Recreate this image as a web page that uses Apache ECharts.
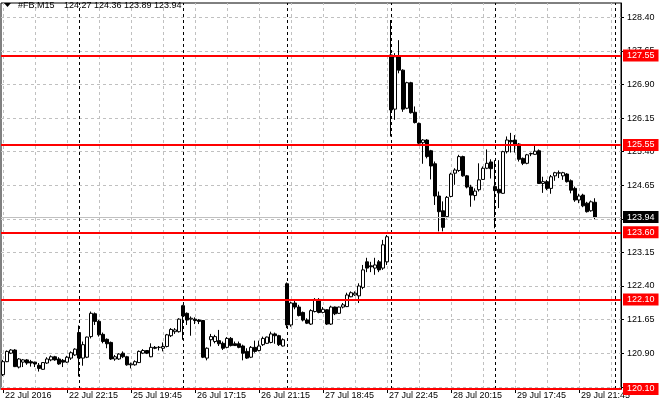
<!DOCTYPE html>
<html><head><meta charset="utf-8">
<script src="https://cdn.jsdelivr.net/npm/echarts@6/dist/echarts.min.js"></script>
<style>html,body{margin:0;padding:0;background:#fff}#c{width:660px;height:410px}</style>
</head><body><div id="c"></div>
<script>
const symbolName = '#FB,M15';
const year = 2016;
// trading sessions: [day, first bar time, number of 15-minute bars]
const sessions = [['22 Jul','18:15',19],['25 Jul','16:30',26],['26 Jul','16:30',26],['27 Jul','16:30',26],['28 Jul','16:30',26],['29 Jul','16:30',26]];
const chartShiftBars = 6;

const opens = [120.42,120.71,120.90,120.97,120.59,120.70,120.75,120.71,120.70,120.63,120.54,120.68,120.75,120.82,120.77,120.74,120.70,120.79,120.86,
121.36,120.79,120.81,121.27,121.78,121.61,121.32,121.21,121.14,120.77,120.77,120.90,120.82,120.64,120.64,120.69,120.90,120.96,120.82,121.03,121.03,121.01,121.05,121.29,121.38,121.38,
121.96,121.79,121.66,121.66,121.64,121.63,120.79,121.20,121.16,121.18,121.12,121.03,121.23,121.11,121.11,121.06,120.94,120.81,121.03,120.96,121.09,121.12,121.14,121.33,121.29,121.06,
122.45,121.53,122.02,121.93,121.81,121.64,121.55,121.83,122.10,121.81,121.87,121.55,121.93,121.79,121.93,121.94,122.16,122.20,122.18,122.37,122.94,122.85,122.80,122.94,122.80,122.94,
127.56,126.35,127.52,127.22,126.37,126.94,126.28,126.03,125.60,125.66,125.42,125.13,124.41,124.08,123.95,124.40,124.92,124.98,125.29,124.86,124.61,124.42,124.55,124.78,125.03,125.17,
124.62,124.56,124.47,125.40,125.65,125.66,125.57,125.25,125.14,125.35,125.34,125.42,124.69,124.73,124.58,124.86,124.92,124.86,124.90,124.75,124.58,124.32,124.43,124.25,124.08,124.27];
const highs = [120.75,120.96,120.99,120.99,120.79,120.77,120.77,120.75,120.71,120.68,120.70,120.81,120.85,120.84,120.81,120.77,120.84,120.94,121.01,
121.52,121.16,121.27,121.83,121.81,121.64,121.36,121.23,121.16,120.86,120.90,120.94,120.84,120.69,120.74,120.96,120.99,120.97,121.12,121.06,121.06,121.14,121.33,121.46,121.46,121.68,
121.98,121.81,121.72,121.70,121.66,121.64,121.03,121.33,121.31,121.42,121.16,121.26,121.26,121.16,121.16,121.09,121.01,121.06,121.18,121.18,121.27,121.27,121.38,121.36,121.31,121.23,
122.48,122.05,122.09,121.98,121.83,121.68,121.88,122.13,122.13,121.93,121.88,121.96,121.94,121.94,122.02,122.25,122.28,122.28,122.46,122.87,123.03,122.94,123.03,122.98,123.43,123.54,
128.34,127.60,127.89,127.24,126.96,126.96,126.41,126.05,125.68,125.68,125.44,125.18,124.51,124.29,124.41,124.93,125.03,125.33,125.31,124.88,124.66,124.58,125.14,125.07,125.45,125.23,
125.21,125.21,125.42,125.74,125.82,125.77,125.59,125.27,125.35,125.38,125.53,125.45,124.84,124.77,124.88,124.95,124.98,124.95,124.92,124.78,124.62,124.46,124.46,124.28,124.31,124.36];
const lows = [120.39,120.70,120.88,120.59,120.56,120.59,120.64,120.60,120.59,120.49,120.53,120.66,120.72,120.73,120.64,120.59,120.68,120.75,120.84,
120.38,120.62,120.79,121.23,121.53,121.27,121.12,121.01,120.75,120.73,120.75,120.79,120.62,120.56,120.62,120.68,120.88,120.88,120.81,120.99,120.96,120.94,121.03,121.26,121.33,121.36,
121.20,121.53,121.29,121.55,121.55,120.79,120.74,121.05,121.12,121.06,120.97,121.01,121.05,121.06,121.01,120.74,120.77,120.79,120.91,120.94,121.06,121.11,121.12,121.11,121.06,121.05,
121.46,121.49,121.88,121.72,121.61,121.55,121.53,121.81,121.79,121.79,121.53,121.53,121.75,121.78,121.90,121.93,122.15,122.18,122.02,122.33,122.71,122.71,122.65,122.71,122.76,122.87,
125.74,126.11,127.15,126.29,126.35,126.25,126.03,125.55,125.13,125.25,124.78,124.21,123.62,123.62,123.91,124.38,124.66,124.95,124.84,124.58,124.17,124.31,124.51,124.77,125.01,124.80,
123.69,124.14,124.46,125.36,125.38,125.38,125.18,125.10,125.12,125.30,125.33,124.68,124.48,124.54,124.46,124.75,124.81,124.77,124.71,124.47,124.28,124.25,124.16,124.04,124.06,123.89];
const closes = [120.71,120.94,120.97,120.60,120.77,120.75,120.68,120.68,120.66,120.56,120.69,120.77,120.82,120.75,120.66,120.70,120.81,120.91,120.99,
120.79,121.09,121.26,121.79,121.61,121.31,121.16,121.11,120.77,120.82,120.88,120.82,120.64,120.66,120.71,120.94,120.96,120.90,121.03,121.01,121.03,121.05,121.31,121.43,121.42,121.66,
121.73,121.64,121.68,121.63,121.61,120.81,121.01,121.27,121.27,121.11,121.01,121.23,121.07,121.07,121.03,120.90,120.79,121.03,120.94,121.06,121.23,121.26,121.33,121.29,121.09,121.20,
121.53,122.02,121.93,121.74,121.64,121.57,121.85,122.10,121.81,121.88,121.55,121.93,121.78,121.93,121.98,122.20,122.25,122.24,122.40,122.76,122.80,122.83,122.87,122.76,123.32,123.50,
126.33,127.52,127.22,126.35,126.94,126.27,126.05,125.59,125.66,125.29,125.08,124.41,124.06,123.71,124.38,124.90,124.99,125.29,124.86,124.61,124.43,124.52,124.77,125.03,125.14,125.02,
124.53,124.48,125.40,125.66,125.62,125.55,125.23,125.14,125.33,125.36,125.41,124.69,124.73,124.58,124.84,124.93,124.93,124.93,124.73,124.54,124.32,124.41,124.19,124.06,124.28,123.94];

const yTicks = [120.15,120.90,121.65,122.40,123.15,123.90,124.65,125.40,126.15,126.90,127.65,128.40];
const levels = [127.55,125.55,123.60,122.10,120.10];
const bidPrice = 123.94;
const daySeparators = [19,45,71,97,123,153];
const gridEveryBars = 8;
const labelEveryBars = 16;

// build categories
const categories = [];
sessions.forEach(([day, start, n]) => {
  let [h, m] = start.split(':').map(Number);
  for (let k = 0; k < n; k++) {
    categories.push(day + ' ' + String(h).padStart(2,'0') + ':' + String(m).padStart(2,'0'));
    m += 15; if (m >= 60) { m -= 60; h += 1; }
  }
});
for (let k = 0; k < chartShiftBars; k++) categories.push('');

const candles = opens.map((o, i) => [o, closes[i], lows[i], highs[i]]);
const FONT = '"Liberation Sans", Arial, sans-serif';

const gridLines = [];
for (let i = 0; i < categories.length; i += gridEveryBars) gridLines.push({xAxis: i});
yTicks.forEach(v => gridLines.push({yAxis: v}));
daySeparators.forEach(i => gridLines.push({xAxis: i, lineStyle: {color: '#000', type: [3, 3], width: 1}}));

const levelLines = levels.map(v => ({yAxis: v}));
levelLines.unshift({yAxis: bidPrice, lineStyle: {color: '#c0c0c0', width: 1, type: 'solid'},
  label: {backgroundColor: '#000'}});

const last = candles.length - 1;
const chart = echarts.init(document.getElementById('c'), null, {renderer: 'canvas'});
chart.setOption({
  animation: false,
  backgroundColor: '#fff',
  textStyle: {fontFamily: FONT},
  grid: {left: 1, right: 39, top: 3, bottom: 21, show: true, borderColor: '#000', borderWidth: 1, backgroundColor: 'transparent'},
  graphic: [
    {type: 'polygon', shape: {points: [[4, 3], [11, 3], [7.5, 7]]}, style: {fill: '#000'}},
    {type: 'text', x: 18, y: 6, style: {text: symbolName, fill: '#000', font: '9px ' + FONT, verticalAlign: 'middle'}},
    {type: 'text', x: 64, y: 6, style: {text: [opens[last], highs[last], lows[last], closes[last]].map(v => v.toFixed(2)).join(' '), fill: '#000', font: '9px ' + FONT, verticalAlign: 'middle'}}
  ],
  xAxis: {
    type: 'category', data: categories, boundaryGap: true,
    axisLine: {show: true, lineStyle: {color: '#000'}},
    axisTick: {show: true, alignWithLabel: true, length: 4, interval: (i) => i % labelEveryBars === 0, lineStyle: {color: '#000'}},
    axisLabel: {show: true, interval: (i) => i % labelEveryBars === 0, align: 'left', padding: [0, 0, 0, 2], margin: 2,
      fontSize: 9, color: '#000', fontFamily: FONT,
      formatter: (v, i) => i === 0 ? v.split(' ').slice(0, 2).join(' ') + ' ' + year : v},
    splitLine: {show: false}
  },
  yAxis: {
    type: 'value', position: 'right', min: 120.10, max: 128.72, scale: true,
    axisLine: {show: true, lineStyle: {color: '#000'}},
    axisTick: {show: true, length: 3, customValues: yTicks, lineStyle: {color: '#000'}},
    axisLabel: {show: true, customValues: yTicks, margin: 6, fontSize: 9, color: '#000', fontFamily: FONT, formatter: v => v.toFixed(2)},
    splitLine: {show: false}
  },
  series: [
    {
      type: 'candlestick', data: candles, barWidth: 3, z: 2,
      itemStyle: {color: '#fff', color0: '#000', borderColor: '#000', borderColor0: '#000', borderWidth: 1},
      markLine: {silent: true, z: 1, symbol: ['none', 'none'], animation: false,
        label: {show: false}, lineStyle: {color: '#c0c0c0', type: [3, 3], width: 1}, data: gridLines}
    },
    {
      type: 'line', data: [], z: 5,
      markLine: {silent: true, z: 6, symbol: ['none', 'none'], animation: false,
        lineStyle: {color: '#ff0000', width: 2, type: 'solid'},
        label: {show: true, position: 'end', distance: 2, formatter: p => p.value.toFixed(2),
          backgroundColor: '#ff0000', color: '#fff', fontSize: 9, fontFamily: FONT, padding: [2, 4, 1, 4]},
        data: levelLines}
    }
  ]
});
</script></body></html>
